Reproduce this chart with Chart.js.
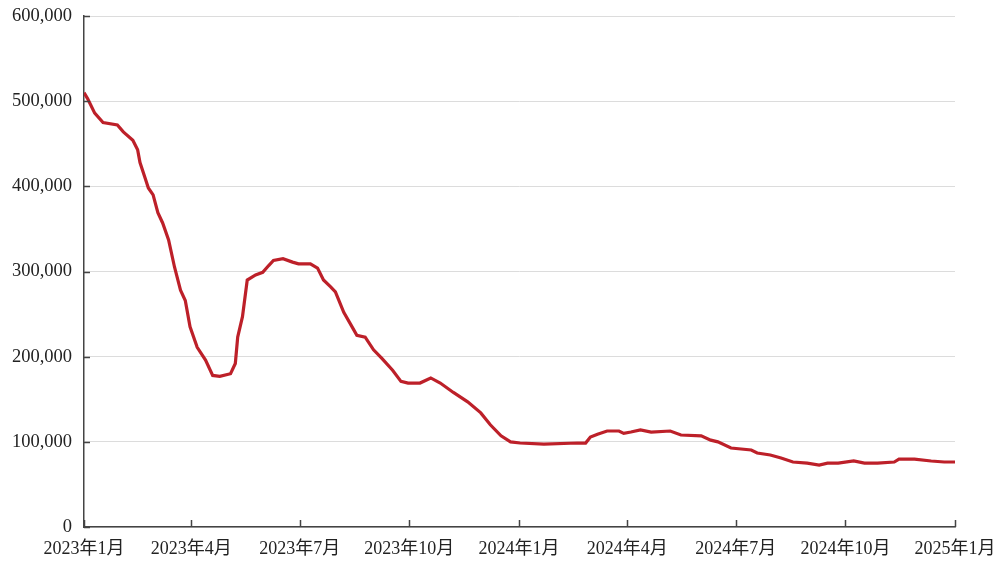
<!DOCTYPE html>
<html>
<head>
<meta charset="utf-8">
<script src="https://cdn.jsdelivr.net/npm/chart.js@4/dist/chart.umd.min.js"></script>
<style>
html,body{margin:0;padding:0;background:#fff;}
#wrap{width:998px;height:563px;position:relative;}
</style>
</head>
<body>
<div id="wrap"><canvas id="c" width="998" height="563"></canvas></div>
<script>
// Days since 2023-01-01
const dayOffsets = [0,3,9,16,28,33,41,45,47,51,54,58,62,66,71,76,81,85,89,95,102,108,114,123,127,129,133,137,144,150,155,159,167,175,180,190,196,201,207,211,218,225,229,236,243,250,259,266,272,282,291,299,310,322,333,341,350,358,366,386,414,421,425,431,439,449,453,459,467,476,492,501,518,526,532,543,560,565,576,585,595,607,617,624,633,646,655,666,680,684,697,711,722,731];
const stockValues = [510000,503000,486000,475000,472000,464000,454000,443000,428000,411000,398000,390000,369000,357000,337000,305000,278000,266000,235000,211000,196000,178000,177000,180000,192000,223000,247000,290000,296000,299000,307000,313000,315000,311000,309000,309000,304000,290000,282000,276000,252000,235000,225000,223000,208000,198000,184000,171000,169000,169000,175000,169000,158000,147000,134000,120000,107000,100000,98600,97400,98600,98600,105700,109000,112700,112700,110000,111500,114000,111500,112700,108000,107000,102000,100000,92700,90400,86900,84500,81000,76300,75000,72800,75000,75000,77500,75000,75000,76300,79800,79800,77500,76300,76300];
const tickDays = [0,90,181,273,365,456,547,639,731];
const tickLabels = ['2023年1月','2023年4月','2023年7月','2023年10月','2024年1月','2024年4月','2024年7月','2024年10月','2025年1月'];
const yTicks = [0,100000,200000,300000,400000,500000,600000];

const FONT = "'Liberation Serif', 'Noto Sans CJK SC', serif";

const innerTicks = {
  id:'innerTicks',
  afterDraw(chart){
    const {ctx, scales:{x,y}} = chart;
    ctx.save();
    ctx.strokeStyle = '#444';
    ctx.lineWidth = 1.5;
    ctx.beginPath();
    tickDays.forEach(d=>{
      const px = Math.round(x.getPixelForValue(d))+0.5;
      ctx.moveTo(px, y.bottom); ctx.lineTo(px, y.bottom-7);
    });
    yTicks.forEach(v=>{
      const py = Math.round(y.getPixelForValue(v))+0.5;
      ctx.moveTo(x.left, py); ctx.lineTo(x.left+6, py);
    });
    ctx.stroke();
    ctx.restore();
  }
};

new Chart(document.getElementById('c'), {
  type:'line',
  data:{
    datasets:[{
      data: dayOffsets.map((d,i)=>({x:d, y:stockValues[i]})),
      borderColor:'#bd2029',
      borderWidth:3.2,
      pointRadius:0,
      tension:0,
      fill:false
    }]
  },
  options:{
    responsive:false,
    animation:false,
    devicePixelRatio:1,
    layout:{padding:{top:16,right:43,bottom:0,left:0}},
    plugins:{legend:{display:false},tooltip:{enabled:false}},
    scales:{
      x:{
        type:'linear',
        min:0,max:731,
        afterBuildTicks(s){ s.ticks = tickDays.map(v=>({value:v})); },
        afterFit(s){ s.height = 36; s.paddingLeft = 0; s.paddingRight = 0; },
        grid:{display:false, drawTicks:false},
        border:{display:true,color:'#444',width:1.5},
        ticks:{
          autoSkip:false, maxRotation:0, padding:11,
          color:'#222', font:{family:FONT,size:18},
          callback:(v,i)=>tickLabels[i]
        }
      },
      y:{
        min:0,max:600000,
        afterBuildTicks(s){ s.ticks = yTicks.map(v=>({value:v})); },
        afterFit(s){ s.width = 84; s.paddingTop = 0; s.paddingBottom = 0; },
        grid:{color:'#dcdcdc',lineWidth:1,drawTicks:false},
        border:{display:true,color:'#444',width:1.5},
        ticks:{
          padding:12, color:'#222', font:{family:FONT,size:18.5},
          callback:v=>v.toLocaleString('en-US')
        }
      }
    }
  },
  plugins:[innerTicks]
});
</script>
</body>
</html>
